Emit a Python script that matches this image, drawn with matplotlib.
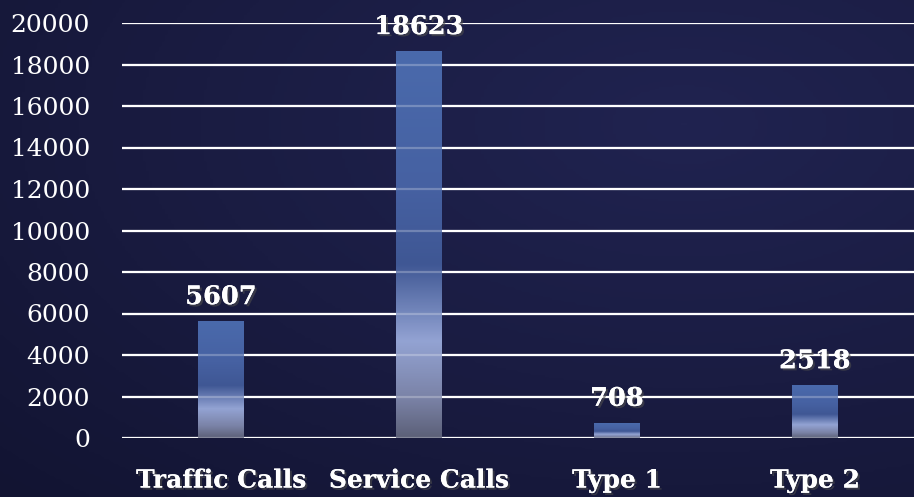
"""Bar chart of call counts on a dark navy background with gradient bars."""
import matplotlib as mpl
mpl.use("Agg")
import matplotlib.pyplot as plt
import matplotlib.patheffects as pe
import numpy as np
from matplotlib.colors import LinearSegmentedColormap

categories = ["Traffic Calls", "Service Calls", "Type 1", "Type 2"]
counts = [5607, 18623, 708, 2518]
y_ticks = [0, 2000, 4000, 6000, 8000, 10000, 12000, 14000, 16000, 18000, 20000]

FONT = "DejaVu Serif"

fig = plt.figure(figsize=(9.14, 4.97), dpi=100)

# dark navy background, slightly lighter toward the top right
bg_ax = fig.add_axes([0, 0, 1, 1], zorder=-10)
yy, xx = np.mgrid[0:1:200j, 0:1:300j]
dist = np.sqrt((xx - 0.75) ** 2 + (yy - 0.75) ** 2)
bg_cmap = LinearSegmentedColormap.from_list("bg", ["#202350", "#1a1c42", "#121432"])
bg_ax.imshow(dist, cmap=bg_cmap, extent=[0, 1, 0, 1], origin="lower", aspect="auto")
bg_ax.axis("off")

ax = fig.add_axes([122 / 914, (497 - 438) / 497, 1 - 122 / 914, 415 / 497])
ax.patch.set_alpha(0)

# bar fill: grey at the base, pale band, then blue toward the top
bar_cmap = LinearSegmentedColormap.from_list("bar", [
    (0.00, "#5c6078"),
    (0.10, "#7a82a6"),
    (0.25, "#93a3d3"),
    (0.45, "#3f5794"),
    (0.65, "#4661a2"),
    (1.00, "#4a6aac"),
])
grad = np.linspace(0, 1, 256).reshape(-1, 1)
shadow = [pe.withSimplePatchShadow(offset=(1.5, -1.5), alpha=0.6), pe.Normal()]

x = np.arange(len(categories))
width = 0.23
for xi, val in zip(x, counts):
    ax.imshow(grad, cmap=bar_cmap, origin="lower", aspect="auto",
              extent=[xi - width / 2, xi + width / 2, 0, val], zorder=2)
    ax.annotate(str(val), (xi, val), xytext=(0, 9), textcoords="offset points",
                ha="center", va="bottom", fontsize=18.5, fontweight="bold",
                family=FONT, color="white", zorder=5, path_effects=shadow)

ax.set_xlim(-0.5, len(categories) - 0.5)
ax.set_ylim(0, 20000)
ax.set_yticks(y_ticks)

# gridlines: solid white behind, faint over the bars
for t in y_ticks:
    ax.axhline(t, color="white", lw=1.6, zorder=1)
    ax.axhline(t, color="white", lw=1.6, alpha=0.25, zorder=3)

ax.set_xticks(x)
ax.set_xticklabels(categories)
for spine in ax.spines.values():
    spine.set_visible(False)
ax.tick_params(axis="y", length=0, pad=23, labelsize=18, labelcolor="white")
ax.tick_params(axis="x", length=0, pad=22, labelsize=18, labelcolor="white")
for lbl in ax.get_yticklabels():
    lbl.set_family(FONT)
for lbl in ax.get_xticklabels():
    lbl.set_family(FONT)
    lbl.set_fontweight("bold")
    lbl.set_path_effects(shadow)

fig.savefig("out.png", dpi=100)
